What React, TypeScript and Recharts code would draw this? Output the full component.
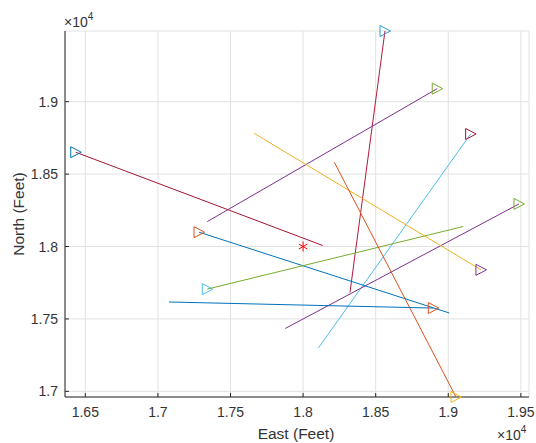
import React from 'react'
import { ScatterChart, Scatter, XAxis, YAxis, CartesianGrid } from 'recharts'

// segment heads carry the triangle marker, tails are the plain line ends
const HEAD_X = [16434, 18564, 18924, 19154, 19487, 17283, 17340, 18897, 19225, 19053]
const HEAD_Y = [18651, 19488, 19090, 18777, 18294, 18099, 17706, 17575, 17839, 16961]
const TAIL_X = [18135, 18323, 17340, 18105, 17877, 19007, 19103, 17076, 17662, 18215]
const TAIL_Y = [18007, 17683, 18172, 17299, 17434, 17541, 18138, 17617, 18782, 18582]
const LINE_COLORS = ['#A2142F', '#B31A3A', '#7E2F8E', '#4DBEEE', '#7E2F8E', '#0072BD', '#77AC30', '#0072BD', '#EDB120', '#D95319']
const MARKER_COLORS = ['#0072BD', '#2A9FD6', '#77AC30', '#A2142F', '#77AC30', '#D95319', '#4DBEEE', '#D95319', '#7E2F8E', '#EDB120']

const TARGET = [{ x: 18000, y: 18000 }]

const X_TICKS = [16500, 17000, 17500, 18000, 18500, 19000, 19500]
const Y_TICKS = [17000, 17500, 18000, 18500, 19000]
const X_DOMAIN = [16360, 19556]
const Y_DOMAIN = [16963, 19488]

const FONT = '"Liberation Sans", Arial, sans-serif'
const AXIS = '#262626'
const TEXT = '#333333'

const fmt = (v: number) => parseFloat((v / 10000).toFixed(2)).toString()

function XTick({ x, y, payload }: any) {
  return (
    <g>
      <line x1={x} x2={x} y1={y} y2={y - 4} stroke={AXIS} strokeWidth={1} />
      <text x={x} y={y + 15} textAnchor="middle" dominantBaseline="central" fontSize={14} fill={TEXT} fontFamily={FONT}>
        {fmt(payload.value)}
      </text>
    </g>
  )
}

function YTick({ x, y, payload }: any) {
  return (
    <g>
      <line x1={x} x2={x + 4} y1={y} y2={y} stroke={AXIS} strokeWidth={1} />
      <text x={x - 7} y={y} textAnchor="end" dominantBaseline="central" fontSize={14} fill={TEXT} fontFamily={FONT}>
        {fmt(payload.value)}
      </text>
    </g>
  )
}

function Triangle({ cx, cy, payload }: any) {
  if (!payload?.m || cx == null) return <g />
  return (
    <polygon
      points={`${cx - 5},${cy - 5.5} ${cx - 5},${cy + 5.5} ${cx + 5.5},${cy}`}
      fill="none"
      stroke={payload.m}
      strokeWidth={1}
    />
  )
}

function Star({ cx, cy }: any) {
  const r = 5
  const dx = r * Math.cos(Math.PI / 6)
  const dy = r * Math.sin(Math.PI / 6)
  return (
    <g stroke="#FF0000" strokeWidth={1}>
      <line x1={cx} x2={cx} y1={cy - r} y2={cy + r} />
      <line x1={cx - dx} x2={cx + dx} y1={cy - dy} y2={cy + dy} />
      <line x1={cx - dx} x2={cx + dx} y1={cy + dy} y2={cy - dy} />
    </g>
  )
}

export default function App() {
  const segments = HEAD_X.map((hx, i) => [
    { x: TAIL_X[i], y: TAIL_Y[i] },
    { x: hx, y: HEAD_Y[i], m: MARKER_COLORS[i] },
  ])

  return (
    <div style={{ position: 'absolute', left: 0, top: 0, width: 536, height: 443, background: '#fff', fontFamily: FONT }}>
      <ScatterChart width={536} height={443} margin={{ top: 31, right: 7, bottom: 0, left: 0 }}>
        <CartesianGrid stroke="#e2e2e2" strokeWidth={1} />
        <XAxis
          type="number"
          dataKey="x"
          domain={X_DOMAIN}
          ticks={X_TICKS}
          height={46}
          tickSize={0}
          tickMargin={0}
          tickLine={false}
          tick={<XTick />}
          axisLine={{ stroke: AXIS }}
          interval={0}
        />
        <YAxis
          type="number"
          dataKey="y"
          domain={Y_DOMAIN}
          ticks={Y_TICKS}
          width={65}
          tickSize={0}
          tickMargin={0}
          tickLine={false}
          tick={<YTick />}
          axisLine={{ stroke: AXIS }}
          interval={0}
        />
        {segments.map((seg, i) => (
          <Scatter
            key={i}
            data={seg}
            line={{ stroke: LINE_COLORS[i], strokeWidth: 1 }}
            shape={<Triangle />}
            isAnimationActive={false}
            legendType="none"
          />
        ))}
        <Scatter data={TARGET} shape={<Star />} isAnimationActive={false} legendType="none" />
        <text x={296} y={433} textAnchor="middle" dominantBaseline="central" fontSize={15.5} fill={TEXT} fontFamily={FONT}>
          East (Feet)
        </text>
        <text
          x={18}
          y={214}
          textAnchor="middle"
          dominantBaseline="central"
          fontSize={15.5}
          fill={TEXT}
          fontFamily={FONT}
          transform="rotate(-90 18 214)"
        >
          North (Feet)
        </text>
        <text x={64} y={27} fontSize={14} fill={TEXT} fontFamily={FONT}>
          ×10<tspan fontSize={10} dy={-7}>4</tspan>
        </text>
        <text x={497} y={440} fontSize={14} fill={TEXT} fontFamily={FONT}>
          ×10<tspan fontSize={10} dy={-7}>4</tspan>
        </text>
      </ScatterChart>
    </div>
  )
}
